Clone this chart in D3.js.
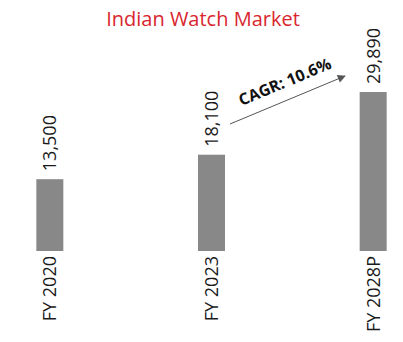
<!DOCTYPE html>
<html>
<head>
<meta charset="utf-8">
<script src="https://cdn.jsdelivr.net/npm/d3@7"></script>
<style>
  html, body { margin: 0; padding: 0; background: #fff; }
  svg { display: block; font-family: "Open Sans", sans-serif; }
</style>
</head>
<body>
<svg id="chart" width="403" height="342"></svg>
<script>
// Indian watch market size by fiscal year
const categories = ["FY 2020", "FY 2023", "FY 2028P"];
const values = [13500, 18100, 29890];
const title = "Indian Watch Market";
const cagrLabel = "CAGR: 10.6%";

const svg = d3.select("#chart");
const baseline = 251;
const barW = 27;

const x = d3.scaleBand()
  .domain(categories)
  .range([-31, 454])
  .paddingInner(0)
  .paddingOuter(0)
  .align(0.5);

const y = d3.scaleLinear()
  .domain([0, d3.max(values)])
  .range([baseline, 92]);

const cx = d => x(d) + x.bandwidth() / 2;

// Title
svg.append("text")
  .attr("x", 203)
  .attr("y", 26)
  .attr("text-anchor", "middle")
  .attr("fill", "#d9262e")
  .attr("font-size", 20)
  .text(title);

// Bars
svg.selectAll("rect.bar")
  .data(categories)
  .join("rect")
  .attr("class", "bar")
  .attr("x", d => cx(d) - barW / 2)
  .attr("width", barW)
  .attr("y", (d, i) => y(values[i]))
  .attr("height", (d, i) => baseline - y(values[i]))
  .attr("fill", "#888888");

// Value labels, rotated above each bar
const fmt = d3.format(",");
svg.selectAll("text.value")
  .data(categories)
  .join("text")
  .attr("class", "value")
  .attr("transform", (d, i) => `translate(${cx(d)},${y(values[i]) - 8}) rotate(-90)`)
  .attr("dy", "0.36em")
  .attr("font-size", 18)
  .attr("fill", "#1a1a1a")
  .text((d, i) => fmt(values[i]));

// Category labels, rotated below the baseline
svg.selectAll("text.cat")
  .data(categories)
  .join("text")
  .attr("class", "cat")
  .attr("transform", d => `translate(${cx(d)},${baseline + 5}) rotate(-90)`)
  .attr("text-anchor", "end")
  .attr("dy", "0.36em")
  .attr("font-size", 18)
  .attr("fill", "#1a1a1a")
  .text(d => d);

// Growth arrow between FY 2023 and FY 2028P
const defs = svg.append("defs");
defs.append("marker")
  .attr("id", "head")
  .attr("viewBox", "0 0 10 10")
  .attr("refX", 9)
  .attr("refY", 5)
  .attr("markerWidth", 10)
  .attr("markerHeight", 8)
  .attr("markerUnits", "userSpaceOnUse")
  .attr("orient", "auto")
  .append("path")
  .attr("d", "M0,0 L10,5 L0,10 Z")
  .attr("fill", "#555");

const a0 = [230, 124], a1 = [345, 76];
svg.append("line")
  .attr("x1", a0[0]).attr("y1", a0[1])
  .attr("x2", a1[0]).attr("y2", a1[1])
  .attr("stroke", "#555")
  .attr("stroke-width", 1)
  .attr("marker-end", "url(#head)");

const ang = Math.atan2(a1[1] - a0[1], a1[0] - a0[0]) * 180 / Math.PI;
svg.append("text")
  .attr("transform", `translate(287,87) rotate(${ang})`)
  .attr("text-anchor", "middle")
  .attr("font-size", 16)
  .attr("font-weight", "bold")
  .attr("fill", "#111")
  .text(cagrLabel);
</script>
</body>
</html>
